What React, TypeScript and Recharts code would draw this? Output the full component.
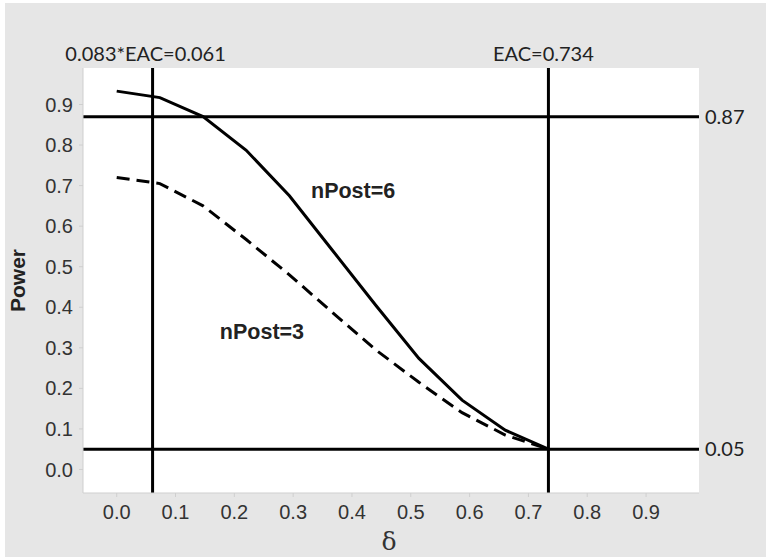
import { CartesianGrid, ComposedChart, Line, ReferenceDot, ReferenceLine, XAxis, YAxis } from "recharts";

const deltas = [0, 0.0734, 0.1468, 0.2202, 0.2936, 0.367, 0.4404, 0.5138, 0.5872, 0.6606, 0.734];
const powerPost6 = [0.933, 0.917, 0.87, 0.787, 0.675, 0.54, 0.405, 0.274, 0.171, 0.097, 0.05];
const powerPost3 = [0.72, 0.705, 0.65, 0.567, 0.48, 0.387, 0.295, 0.215, 0.14, 0.085, 0.05];
const xTicks = [0, 0.1, 0.2, 0.3, 0.4, 0.5, 0.6, 0.7, 0.8, 0.9];
const yTicks = [0, 0.1, 0.2, 0.3, 0.4, 0.5, 0.6, 0.7, 0.8, 0.9];

const eacLines = [
  { x: 0.061, label: "0.083*EAC=0.061", shift: -7 },
  { x: 0.734, label: "EAC=0.734", shift: -5 },
];
const powerLines = [
  { y: 0.87, label: "0.87" },
  { y: 0.05, label: "0.05" },
];
const curveLabels = [
  { x: 0.402, y: 0.689, text: "nPost=6" },
  { x: 0.247, y: 0.34, text: "nPost=3" },
];

const data = deltas.map((d, i) => ({ delta: d, n6: powerPost6[i], n3: powerPost3[i] }));

const sans = "'Liberation Sans', Arial, sans-serif";
const tickFont = { fontFamily: sans, fontSize: 20, fill: "#333" };
const refFont = { fontFamily: "Lato, sans-serif", fontSize: 20, fill: "#222" };

export default function App() {
  return (
    <div style={{ position: "absolute", left: 0, top: 0, width: 766, height: 557, background: "#fff" }}>
      <div style={{ position: "absolute", left: 5, top: 3, right: 0, bottom: 0, background: "#e6e6e6" }} />
      <div style={{ position: "absolute", left: 0, top: 0 }}>
        <ComposedChart width={766} height={557} data={data} margin={{ top: 68, right: 67, bottom: 4, left: 3 }}>
          <CartesianGrid fill="#fff" horizontal={false} vertical={false} />
          <XAxis
            dataKey="delta"
            type="number"
            domain={[-0.0573, 0.99]}
            ticks={xTicks}
            allowDataOverflow
            height={60}
            tickFormatter={(v) => v.toFixed(1)}
            tick={tickFont}
            tickSize={4}
            tickMargin={8}
            stroke="#cfcfcf"
            label={{
              content: ({ viewBox }: any) => (
                <text x={viewBox.x + viewBox.width / 2 - 2} y={550} textAnchor="middle"
                  style={{ fontFamily: "'DejaVu Serif', serif", fontSize: 25, fill: "#333" }}>
                  δ
                </text>
              ),
            }}
          />
          <YAxis
            type="number"
            domain={[-0.058, 0.99]}
            ticks={yTicks}
            allowDataOverflow
            width={80}
            tickFormatter={(v) => v.toFixed(1)}
            tick={tickFont}
            tickSize={4}
            tickMargin={6}
            stroke="#cfcfcf"
            label={{
              content: ({ viewBox }: any) => {
                const cy = viewBox.y + viewBox.height / 2;
                return (
                  <text x={25} y={cy} textAnchor="middle" transform={`rotate(-90, 25, ${cy})`}
                    style={{ fontFamily: sans, fontSize: 21, fontWeight: "bold", fill: "#222" }}>
                    Power
                  </text>
                );
              },
            }}
          />
          {eacLines.map((l) => (
            <ReferenceLine key={l.label} x={l.x} stroke="#000" strokeWidth={3}
              label={{
                content: ({ viewBox }: any) => (
                  <text x={viewBox.x + l.shift} y={viewBox.y - 7} textAnchor="middle" style={refFont}>
                    {l.label}
                  </text>
                ),
              }} />
          ))}
          {powerLines.map((l) => (
            <ReferenceLine key={l.label} y={l.y} stroke="#000" strokeWidth={3}
              label={{ value: l.label, position: "right", offset: 6, style: refFont }} />
          ))}
          <Line dataKey="n6" type="linear" stroke="#000" strokeWidth={3} dot={false} isAnimationActive={false} />
          <Line dataKey="n3" type="linear" stroke="#000" strokeWidth={3} strokeDasharray="13 7" dot={false} isAnimationActive={false} />
          {curveLabels.map((c) => (
            <ReferenceDot key={c.text} x={c.x} y={c.y} r={0} stroke="none" fill="none"
              label={{ value: c.text, position: "center", style: { fontFamily: sans, fontSize: 21.5, fontWeight: "bold", fill: "#222" } }} />
          ))}
        </ComposedChart>
      </div>
    </div>
  );
}
